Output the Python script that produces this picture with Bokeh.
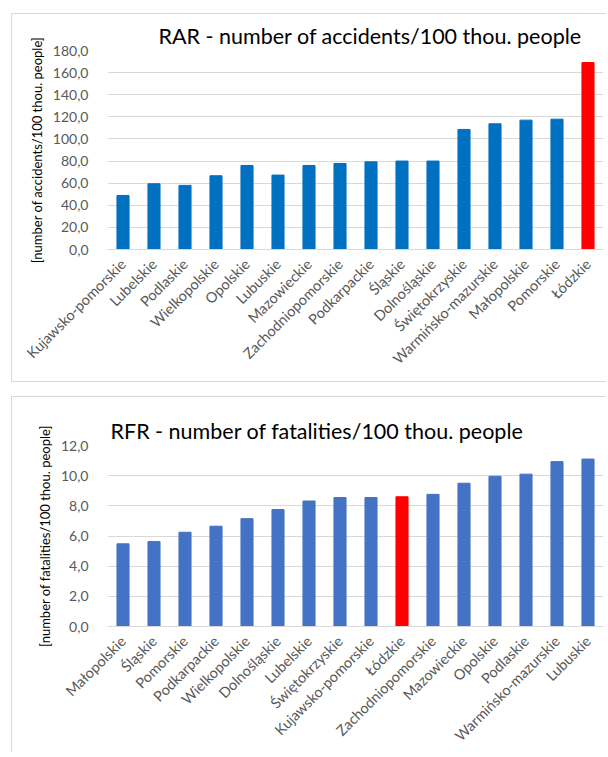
import math
from bokeh.plotting import figure
from bokeh.models import FactorRange, Range1d, FixedTicker, Title, ColumnDataSource
from bokeh.layouts import column
from bokeh.embed import file_html
from bokeh.resources import INLINE

# ---- data: RAR (accidents / 100k people)
rar_regions = ["Kujawsko-pomorskie", "Lubelskie", "Podlaskie", "Wielkopolskie", "Opolskie",
               "Lubuskie", "Mazowieckie", "Zachodniopomorskie", "Podkarpackie", "Śląskie",
               "Dolnośląskie", "Świętokrzyskie", "Warmińsko-mazurskie", "Małopolskie",
               "Pomorskie", "Łódzkie"]
rar_values = [48.9, 59.5, 58.0, 66.7, 76.0, 67.3, 76.0, 77.8, 79.3, 80.0, 80.0,
              108.6, 113.7, 117.0, 117.9, 169.1]
rar_ticks = [0, 20, 40, 60, 80, 100, 120, 140, 160, 180]

# ---- data: RFR (fatalities / 100k people)
rfr_regions = ["Małopolskie", "Śląskie", "Pomorskie", "Podkarpackie", "Wielkopolskie",
               "Dolnośląskie", "Lubelskie", "Świętokrzyskie", "Kujawsko-pomorskie", "Łódzkie",
               "Zachodniopomorskie", "Mazowieckie", "Opolskie", "Podlaskie",
               "Warmińsko-mazurskie", "Lubuskie"]
rfr_values = [5.48, 5.63, 6.25, 6.65, 7.15, 7.75, 8.32, 8.55, 8.55, 8.6, 8.76,
              9.5, 9.96, 10.1, 10.93, 11.1]
rfr_ticks = [0, 2, 4, 6, 8, 10, 12]

highlight = "Łódzkie"
FONT = "Lato"
GRID = "#D9D9D9"
TXT = "#595959"


def fmt(t):
    return f"{t:.1f}".replace(".", ",")


def make_chart(regions, values, ticks, ymax, base_color, title, ylabel,
               width, height, mb_left, mb_right, mb_top, mb_bottom,
               title_offset, title_size, margin, borders):
    colors = ["#FF0000" if r == highlight else base_color for r in regions]
    src = ColumnDataSource(dict(x=regions, top=values, color=colors))
    p = figure(width=width, height=height, x_range=FactorRange(*regions),
               y_range=Range1d(0, ymax), output_backend="svg", toolbar_location=None,
               min_border_left=mb_left, min_border_right=mb_right,
               min_border_top=mb_top, min_border_bottom=mb_bottom)
    p.vbar(x="x", top="top", width=0.39, color="color", source=src)

    p.outline_line_color = None
    p.xgrid.grid_line_color = None
    p.ygrid.grid_line_color = GRID
    p.ygrid.grid_line_width = 1

    p.yaxis.ticker = FixedTicker(ticks=ticks)
    p.yaxis.major_label_overrides = {t: fmt(t) for t in ticks}
    p.yaxis.axis_line_color = None
    p.yaxis.major_tick_line_color = None
    p.yaxis.minor_tick_line_color = None
    p.yaxis.major_label_text_font = FONT
    p.yaxis.major_label_text_font_size = "14px"
    p.yaxis.major_label_text_color = TXT
    p.yaxis.major_label_standoff = 13
    p.yaxis.axis_label = ylabel
    p.yaxis.axis_label_text_font = FONT
    p.yaxis.axis_label_text_font_size = "13px"
    p.yaxis.axis_label_text_font_style = "normal"
    p.yaxis.axis_label_text_color = "#000000"
    p.yaxis.axis_label_standoff = 5

    p.xaxis.axis_line_color = GRID
    p.xaxis.major_tick_line_color = None
    p.xaxis.minor_tick_line_color = None
    p.xaxis.major_label_orientation = math.pi / 4
    p.xaxis.major_label_text_font = FONT
    p.xaxis.major_label_text_font_size = "14.5px"
    p.xaxis.major_label_text_color = TXT
    p.xaxis.major_label_standoff = 6

    p.title = None
    t = Title(text=title, align="left", offset=title_offset, text_font=FONT,
              text_font_size=title_size, text_font_style="normal",
              text_color="#000000", standoff=4)
    p.add_layout(t, "above")

    p.margin = margin
    p.styles = {f"border-{b}": "1.5px solid #D9D9D9" for b in borders}
    return p


p1 = make_chart(rar_regions, rar_values, rar_ticks, 180, "#0070C0",
                "RAR - number of accidents/100 thou. people",
                "[number of accidents/100 thou. people]",
                595, 369, 95, 4, 36, 134, 51, "21.5px", (13, 0, 0, 11),
                ["left", "top", "bottom"])
p2 = make_chart(rfr_regions, rfr_values, rfr_ticks, 12, "#4472C4",
                "RFR - number of fatalities/100 thou. people",
                "[number of fatalities/100 thou. people]",
                595, 356, 88, 4, 48, 123, 3, "21.5px", (14, 0, 0, 11),
                ["left", "top"])

layout = column(p1, p2, spacing=0)
open("out.html", "w").write(file_html(layout, INLINE))
